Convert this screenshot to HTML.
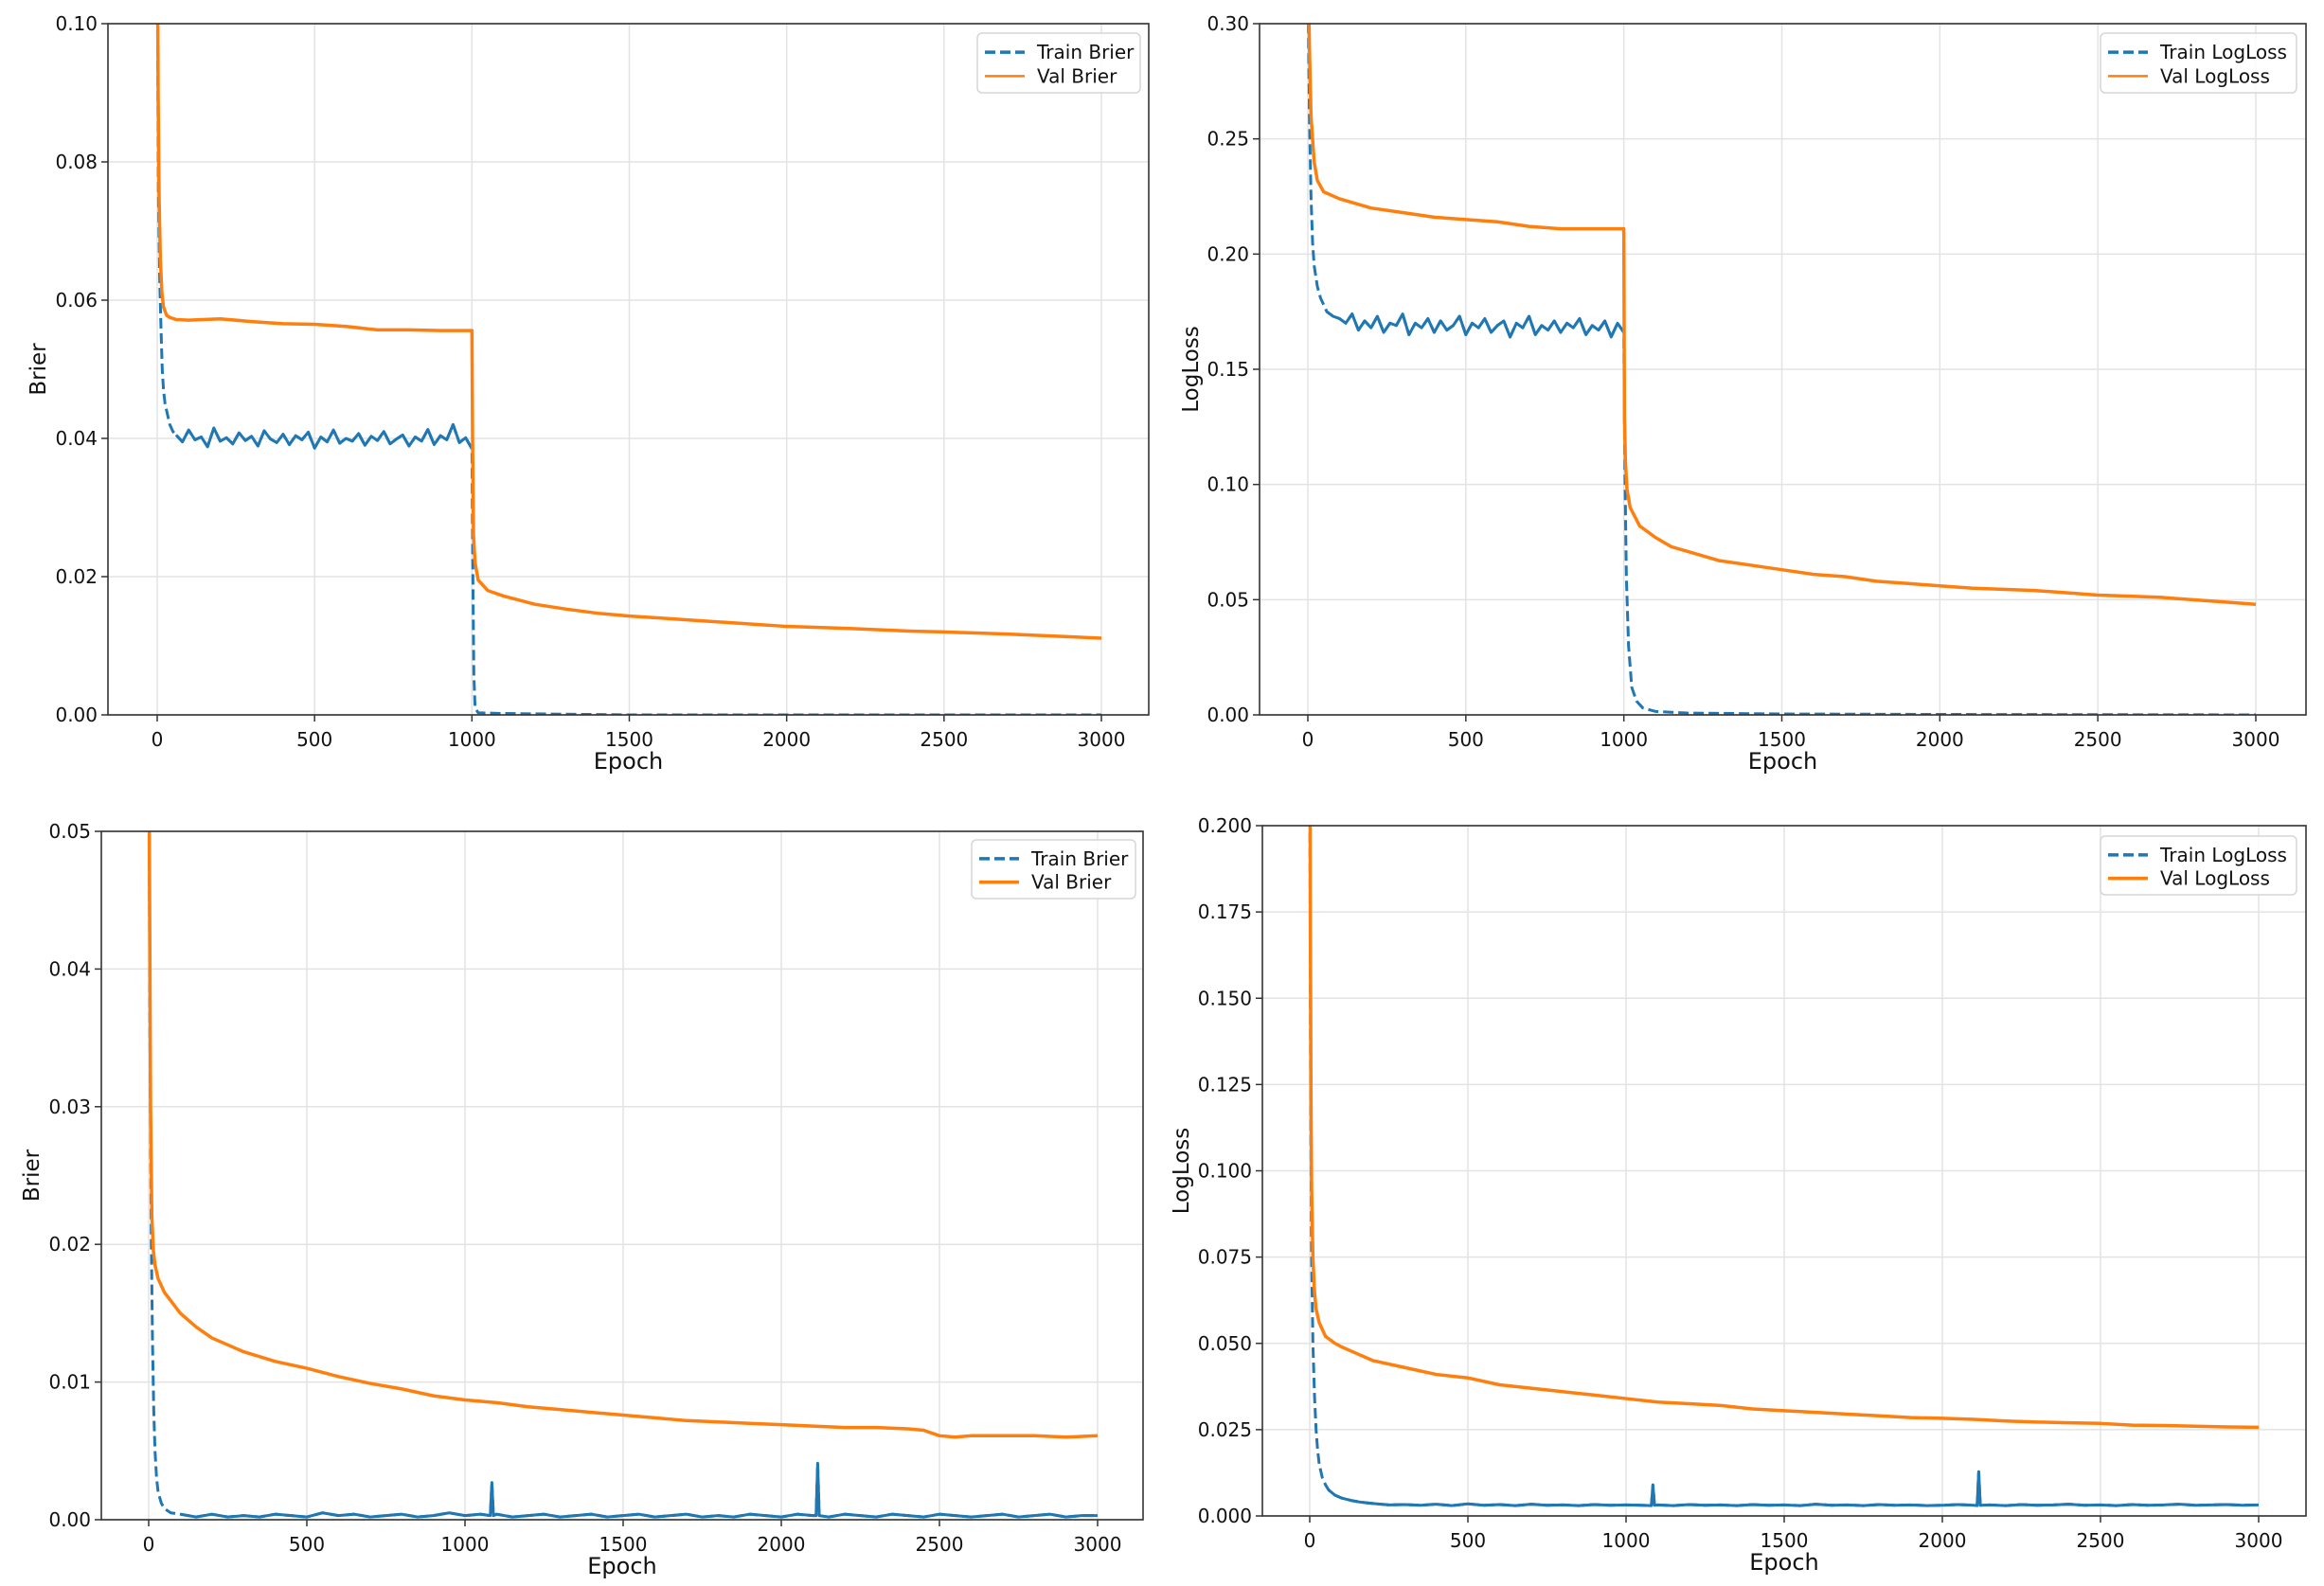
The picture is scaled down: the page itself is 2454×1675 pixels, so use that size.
<!DOCTYPE html>
<html><head><meta charset="utf-8"><title>Training curves</title>
<style>
html,body{margin:0;padding:0;background:#fff;}
svg{display:block;font-family:"DejaVu Sans","Liberation Sans",sans-serif;}
</style></head>
<body>
<svg id="fig" width="2454" height="1675" viewBox="0 0 2454 1675" xmlns="http://www.w3.org/2000/svg"></svg>
<script>
// ---------- data ----------
const xTicks = [0, 500, 1000, 1500, 2000, 2500, 3000];

// Panel 1: Brier (top-left)
const p1Ticks = [0, 0.02, 0.04, 0.06, 0.08, 0.10];
const p1TickLabels = ["0.00","0.02","0.04","0.06","0.08","0.10"];
const p1ValEpochs = [0,3,6,10,15,20,30,40,60,100,200,300,400,500,600,700,800,900,1000,1002,1005,1010,1020,1050,1100,1200,1300,1400,1500,1600,1700,1800,1900,2000,2200,2400,2500,2700,2900,3000];
const p1ValValues = [0.12,0.09,0.075,0.066,0.061,0.059,0.0578,0.0575,0.0572,0.0571,0.0573,0.0569,0.0566,0.0565,0.0562,0.0557,0.0557,0.0556,0.0556,0.04,0.026,0.022,0.0195,0.018,0.0172,0.016,0.0153,0.0147,0.0143,0.014,0.0137,0.0134,0.0131,0.0128,0.0125,0.0121,0.012,0.0117,0.0113,0.0111];
const p1TrainEpochs = [0,4,8,12,16,20,25,30,40,50,
 60,80,100,120,140,160,180,200,220,240,260,280,300,320,340,360,380,400,420,440,460,480,500,520,540,560,580,600,620,640,660,680,700,720,740,760,780,800,820,840,860,880,900,920,940,960,980,1000,
 1003,1006,1010,1020,1100,1500,2000,2500,3000];
const p1TrainValues = [0.11,0.075,0.063,0.056,0.050,0.047,0.045,0.044,0.042,0.041,
 0.0405,0.0395,0.0412,0.0398,0.0402,0.0388,0.0415,0.0396,0.0401,0.0392,0.0408,0.0397,0.0403,0.0389,0.0411,0.0399,0.0394,0.0406,0.0391,0.0404,0.0398,0.0409,0.0386,0.0402,0.0395,0.0412,0.0393,0.0400,0.0396,0.0407,0.0390,0.0403,0.0397,0.0410,0.0392,0.0399,0.0405,0.0389,0.0402,0.0396,0.0413,0.0391,0.0404,0.0398,0.0420,0.0394,0.0401,0.0385,
 0.02,0.006,0.001,0.0003,0.0002,0,0,0,0];

// Panel 2: LogLoss (top-right)
const p2Ticks = [0, 0.05, 0.10, 0.15, 0.20, 0.25, 0.30];
const p2TickLabels = ["0.00","0.05","0.10","0.15","0.20","0.25","0.30"];
const p2ValEpochs = [0,5,10,20,30,50,100,200,300,400,500,600,700,800,900,1000,1002,1005,1010,1020,1050,1100,1150,1200,1300,1400,1500,1600,1700,1800,1900,2000,2100,2200,2300,2400,2500,2600,2700,2800,2900,3000];
const p2ValValues = [0.33,0.29,0.26,0.24,0.232,0.227,0.224,0.220,0.218,0.216,0.215,0.214,0.212,0.211,0.211,0.211,0.13,0.11,0.098,0.09,0.082,0.077,0.073,0.071,0.067,0.065,0.063,0.061,0.060,0.058,0.057,0.056,0.055,0.0545,0.054,0.053,0.052,0.0515,0.051,0.050,0.049,0.048];
const p2TrainEpochs = [0,5,10,15,20,30,40,50,60,80,100,
 120,140,160,180,200,220,240,260,280,300,320,340,360,380,400,420,440,460,480,500,520,540,560,580,600,620,640,660,680,700,720,740,760,780,800,820,840,860,880,900,920,940,960,980,1000,
 1003,1008,1015,1025,1040,1060,1100,1200,1500,2000,2500,3000];
const p2TrainValues = [0.32,0.26,0.225,0.205,0.195,0.186,0.181,0.178,0.175,0.173,0.172,
 0.170,0.174,0.167,0.171,0.168,0.173,0.166,0.170,0.169,0.174,0.165,0.170,0.168,0.172,0.166,0.171,0.167,0.169,0.173,0.165,0.170,0.168,0.172,0.166,0.169,0.171,0.164,0.170,0.168,0.173,0.165,0.169,0.167,0.171,0.166,0.170,0.168,0.172,0.165,0.169,0.167,0.171,0.164,0.170,0.166,
 0.11,0.06,0.03,0.012,0.006,0.003,0.0015,0.0008,0.0004,0.0002,0.0001,0];

// Panel 3: Brier (bottom-left)
const p3Ticks = [0, 0.01, 0.02, 0.03, 0.04, 0.05];
const p3TickLabels = ["0.00","0.01","0.02","0.03","0.04","0.05"];
const p3ValEpochs = [0,3,6,10,15,20,30,50,100,150,200,300,400,500,600,700,800,900,1000,1100,1200,1300,1400,1500,1600,1700,1800,1900,2000,2100,2200,2300,2400,2450,2500,2550,2600,2700,2800,2900,3000];
const p3ValValues = [0.06,0.045,0.03,0.022,0.0195,0.0185,0.0175,0.0165,0.015,0.014,0.0132,0.0122,0.0115,0.0110,0.0104,0.0099,0.0095,0.0090,0.0087,0.0085,0.0082,0.0080,0.0078,0.0076,0.0074,0.0072,0.0071,0.0070,0.0069,0.0068,0.0067,0.0067,0.0066,0.0065,0.0061,0.0060,0.0061,0.0061,0.0061,0.0060,0.0061];
const p3TrainEpochs = [0,4,8,12,16,20,25,30,40,50,70,100,
 150,200,250,300,350,400,450,500,550,600,650,700,750,800,850,900,950,1000,1050,1080,1085,1090,1100,1150,1200,1250,1300,1350,1400,1450,1500,1550,1600,1650,1700,1750,1800,1850,1900,1950,2000,2050,2100,2110,2115,2120,2150,2200,2250,2300,2350,2400,2450,2500,2550,2600,2650,2700,2750,2800,2850,2900,2950,3000];
const p3TrainValues = [0.06,0.035,0.021,0.013,0.008,0.005,0.003,0.002,0.0012,0.0008,0.0005,0.0004,
 0.0002,0.0004,0.0002,0.0003,0.0002,0.0004,0.0003,0.0002,0.0005,0.0003,0.0004,0.0002,0.0003,0.0004,0.0002,0.0003,0.0005,0.0003,0.0004,0.0003,0.0027,0.0003,0.0004,0.0002,0.0003,0.0004,0.0002,0.0003,0.0004,0.0002,0.0003,0.0004,0.0002,0.0003,0.0004,0.0002,0.0003,0.0002,0.0004,0.0003,0.0002,0.0004,0.0003,0.0003,0.0041,0.0003,0.0002,0.0004,0.0003,0.0002,0.0004,0.0003,0.0002,0.0004,0.0003,0.0002,0.0003,0.0004,0.0002,0.0003,0.0004,0.0002,0.0003,0.0003];

// Panel 4: LogLoss (bottom-right)
const p4Ticks = [0, 0.025, 0.05, 0.075, 0.1, 0.125, 0.15, 0.175, 0.2];
const p4TickLabels = ["0.000","0.025","0.050","0.075","0.100","0.125","0.150","0.175","0.200"];
const p4ValEpochs = [0,2,4,6,10,15,20,30,50,80,100,150,200,300,400,500,600,700,800,900,1000,1100,1200,1300,1400,1500,1600,1700,1800,1900,2000,2100,2200,2300,2400,2500,2600,2700,2800,2900,3000];
const p4ValValues = [0.25,0.17,0.12,0.095,0.075,0.065,0.06,0.056,0.052,0.050,0.049,0.047,0.045,0.043,0.041,0.040,0.038,0.037,0.036,0.035,0.034,0.033,0.0325,0.032,0.031,0.0305,0.030,0.0295,0.029,0.0285,0.0283,0.028,0.0275,0.0272,0.027,0.0268,0.0263,0.0262,0.026,0.0258,0.0257];
const p4TrainEpochs = [0,3,6,10,15,20,25,30,40,50,60,80,100,130,160,200,
 250,300,350,400,450,500,550,600,650,700,750,800,850,900,950,1000,1050,1080,1085,1090,1100,1150,1200,1250,1300,1350,1400,1450,1500,1550,1600,1650,1700,1750,1800,1850,1900,1950,2000,2050,2100,2110,2115,2120,2150,2200,2250,2300,2350,2400,2450,2500,2550,2600,2650,2700,2750,2800,2850,2900,2950,3000];
const p4TrainValues = [0.22,0.12,0.075,0.05,0.035,0.025,0.019,0.015,0.011,0.009,0.0075,0.006,0.0052,0.0045,0.004,0.0036,
 0.0032,0.0033,0.0031,0.0034,0.0030,0.0035,0.0031,0.0033,0.0030,0.0034,0.0031,0.0032,0.0030,0.0033,0.0031,0.0032,0.0031,0.0030,0.0090,0.0031,0.0032,0.0030,0.0033,0.0031,0.0032,0.0030,0.0033,0.0031,0.0032,0.0030,0.0034,0.0031,0.0032,0.0030,0.0033,0.0031,0.0032,0.0030,0.0031,0.0033,0.0031,0.0030,0.0128,0.0031,0.0032,0.0030,0.0033,0.0031,0.0032,0.0034,0.0031,0.0032,0.0030,0.0033,0.0031,0.0032,0.0034,0.0031,0.0032,0.0033,0.0031,0.0032];

// ---------- drawing ----------
const NS = "http://www.w3.org/2000/svg";
const fig = document.getElementById("fig");
const BLUE = "#1f77b4", ORANGE = "#ff7f0e";
function mk(tag, parent, attrs) {
  const e = document.createElementNS(NS, tag);
  for (const k in attrs) e.setAttribute(k, attrs[k]);
  parent.appendChild(e);
  return e;
}

function panel(id, cfg) {
  const g = mk("g", fig, {});
  
  
  const b = cfg.box;
  const sx = v => cfg.x0 + (cfg.x3000 - cfg.x0) * v / 3000;
  const sy = v => cfg.y0 + (cfg.yTop - cfg.y0) * v / cfg.ymax;
  const clip = mk("clipPath", g, {id: id + "-clip"});
  mk("rect", clip, {x: b[0], y: b[1], width: b[2]-b[0], height: b[3]-b[1]});
  // grid
  xTicks.forEach(t => {
    const l = mk("line", g, {x1: sx(t), x2: sx(t), y1: b[1], y2: b[3], stroke: "#e3e3e3", "stroke-width": 1.5});
    
    
  });
  cfg.yTicks.forEach(t => {
    const l = mk("line", g, {x1: b[0], x2: b[2], y1: sy(t), y2: sy(t), stroke: "#e3e3e3", "stroke-width": 1.5});
    
    
  });
  const path = (ex, vs) => ex.map((e, i) => (i ? "L" : "M") + sx(e).toFixed(2) + "," + sy(vs[i]).toFixed(2)).join("");
  const series = mk("g", g, {"clip-path": "url(#" + id + "-clip)"});
  const tr = mk("path", series, {d: path(cfg.trainE, cfg.trainV), fill: "none", stroke: BLUE, "stroke-width": 3, "stroke-dasharray": "11,5", "stroke-linejoin": "round"});
  
  
  // solid overlay for the dense noisy portion
  const idx = cfg.trainE.map((e, i) => i).filter(i => cfg.trainE[i] >= cfg.solidFrom && cfg.trainE[i] <= cfg.solidTo);
  const trs = mk("path", series, {d: path(idx.map(i => cfg.trainE[i]), idx.map(i => cfg.trainV[i])), fill: "none", stroke: BLUE, "stroke-width": 3, "stroke-linejoin": "round"});
  
  
  const va = mk("path", series, {d: path(cfg.valE, cfg.valV), fill: "none", stroke: ORANGE, "stroke-width": 3.5, "stroke-linejoin": "round"});
  
  
  // spines
  const fr = mk("rect", g, {x: b[0], y: b[1], width: b[2]-b[0], height: b[3]-b[1], fill: "none", stroke: "#333", "stroke-width": 1.6});
  
  
  // ticks
  xTicks.forEach(t => {
    mk("line", g, {x1: sx(t), x2: sx(t), y1: b[3], y2: b[3]+7, stroke: "#333", "stroke-width": 1.5});
    const tx = mk("text", g, {x: sx(t), y: b[3]+33, "text-anchor": "middle", "font-size": 20, fill: "#111"});
    tx.textContent = t;
    
    
  });
  cfg.yTicks.forEach((t, i) => {
    mk("line", g, {x1: b[0]-7, x2: b[0], y1: sy(t), y2: sy(t), stroke: "#333", "stroke-width": 1.5});
    const tx = mk("text", g, {x: b[0]-11, y: sy(t)+7, "text-anchor": "end", "font-size": 20, fill: "#111"});
    tx.textContent = cfg.yLabels[i];
    
    
  });
  const xl = mk("text", g, {x: (b[0]+b[2])/2, y: cfg.xlabY, "text-anchor": "middle", "font-size": 24, fill: "#111"});
  xl.textContent = "Epoch";
  
  
  const yl = mk("text", g, {x: 0, y: 0, "text-anchor": "middle", "font-size": 23, fill: "#111", transform: "translate(" + cfg.ylabX + "," + ((b[1]+b[3])/2) + ") rotate(-90)"});
  yl.textContent = cfg.ylab;
  
  
  // legend
  const L = cfg.leg;
  const lg = mk("g", g, {});
  
  
  mk("rect", lg, {x: L[0], y: L[1], width: L[2]-L[0], height: L[3]-L[1], rx: 5, fill: "#fff", "fill-opacity": 0.85, stroke: "#d6d6d6", "stroke-width": 1.5});
  const h = (L[3]-L[1]);
  const r1 = L[1] + h*0.32, r2 = L[1] + h*0.72;
  const e1 = mk("g", lg, {});
  
  
  mk("line", e1, {x1: L[0]+8, x2: L[0]+50, y1: r1, y2: r1, stroke: BLUE, "stroke-width": 3.5, "stroke-dasharray": "11,5"});
  const t1 = mk("text", e1, {x: L[0]+63, y: r1+7, "font-size": 20, fill: "#111"});
  t1.textContent = cfg.legTrain;
  const e2 = mk("g", lg, {});
  
  
  mk("line", e2, {x1: L[0]+8, x2: L[0]+50, y1: r2, y2: r2, stroke: ORANGE, "stroke-width": cfg.legW});
  const t2 = mk("text", e2, {x: L[0]+63, y: r2+7, "font-size": 20, fill: "#111"});
  t2.textContent = cfg.legVal;
}

panel("brier-top", {box: [114,25,1213,755], x0: 166, x3000: 1163, y0: 755, yTop: 25, ymax: 0.10,
  yTicks: p1Ticks, yLabels: p1TickLabels, trainE: p1TrainEpochs, trainV: p1TrainValues, valE: p1ValEpochs, valV: p1ValValues,
  solidFrom: 60, solidTo: 1000, xlabY: 812, ylabX: 48, ylab: "Brier", leg: [1032,35,1204,98], legTrain: "Train Brier", legVal: "Val Brier", legW: 2.5});
panel("logloss-top", {box: [1330,25,2435,755], x0: 1381, x3000: 2382, y0: 755, yTop: 25, ymax: 0.30,
  yTicks: p2Ticks, yLabels: p2TickLabels, trainE: p2TrainEpochs, trainV: p2TrainValues, valE: p2ValEpochs, valV: p2ValValues,
  solidFrom: 60, solidTo: 1000, xlabY: 812, ylabX: 1265, ylab: "LogLoss", leg: [2218,35,2425,98], legTrain: "Train LogLoss", legVal: "Val LogLoss", legW: 2.5});
panel("brier-bottom", {box: [107,878,1207,1605], x0: 157, x3000: 1159, y0: 1605, yTop: 878, ymax: 0.05,
  yTicks: p3Ticks, yLabels: p3TickLabels, trainE: p3TrainEpochs, trainV: p3TrainValues, valE: p3ValEpochs, valV: p3ValValues,
  solidFrom: 100, solidTo: 3000, xlabY: 1662, ylabX: 41, ylab: "Brier", leg: [1026,887,1199,949], legTrain: "Train Brier", legVal: "Val Brier", legW: 3.5});
panel("logloss-bottom", {box: [1333,872,2435,1601], x0: 1383, x3000: 2385, y0: 1601, yTop: 872, ymax: 0.20,
  yTicks: p4Ticks, yLabels: p4TickLabels, trainE: p4TrainEpochs, trainV: p4TrainValues, valE: p4ValEpochs, valV: p4ValValues,
  solidFrom: 60, solidTo: 3000, xlabY: 1658, ylabX: 1255, ylab: "LogLoss", leg: [2218,883,2425,945], legTrain: "Train LogLoss", legVal: "Val LogLoss", legW: 3.5});
</script>
</body></html>
